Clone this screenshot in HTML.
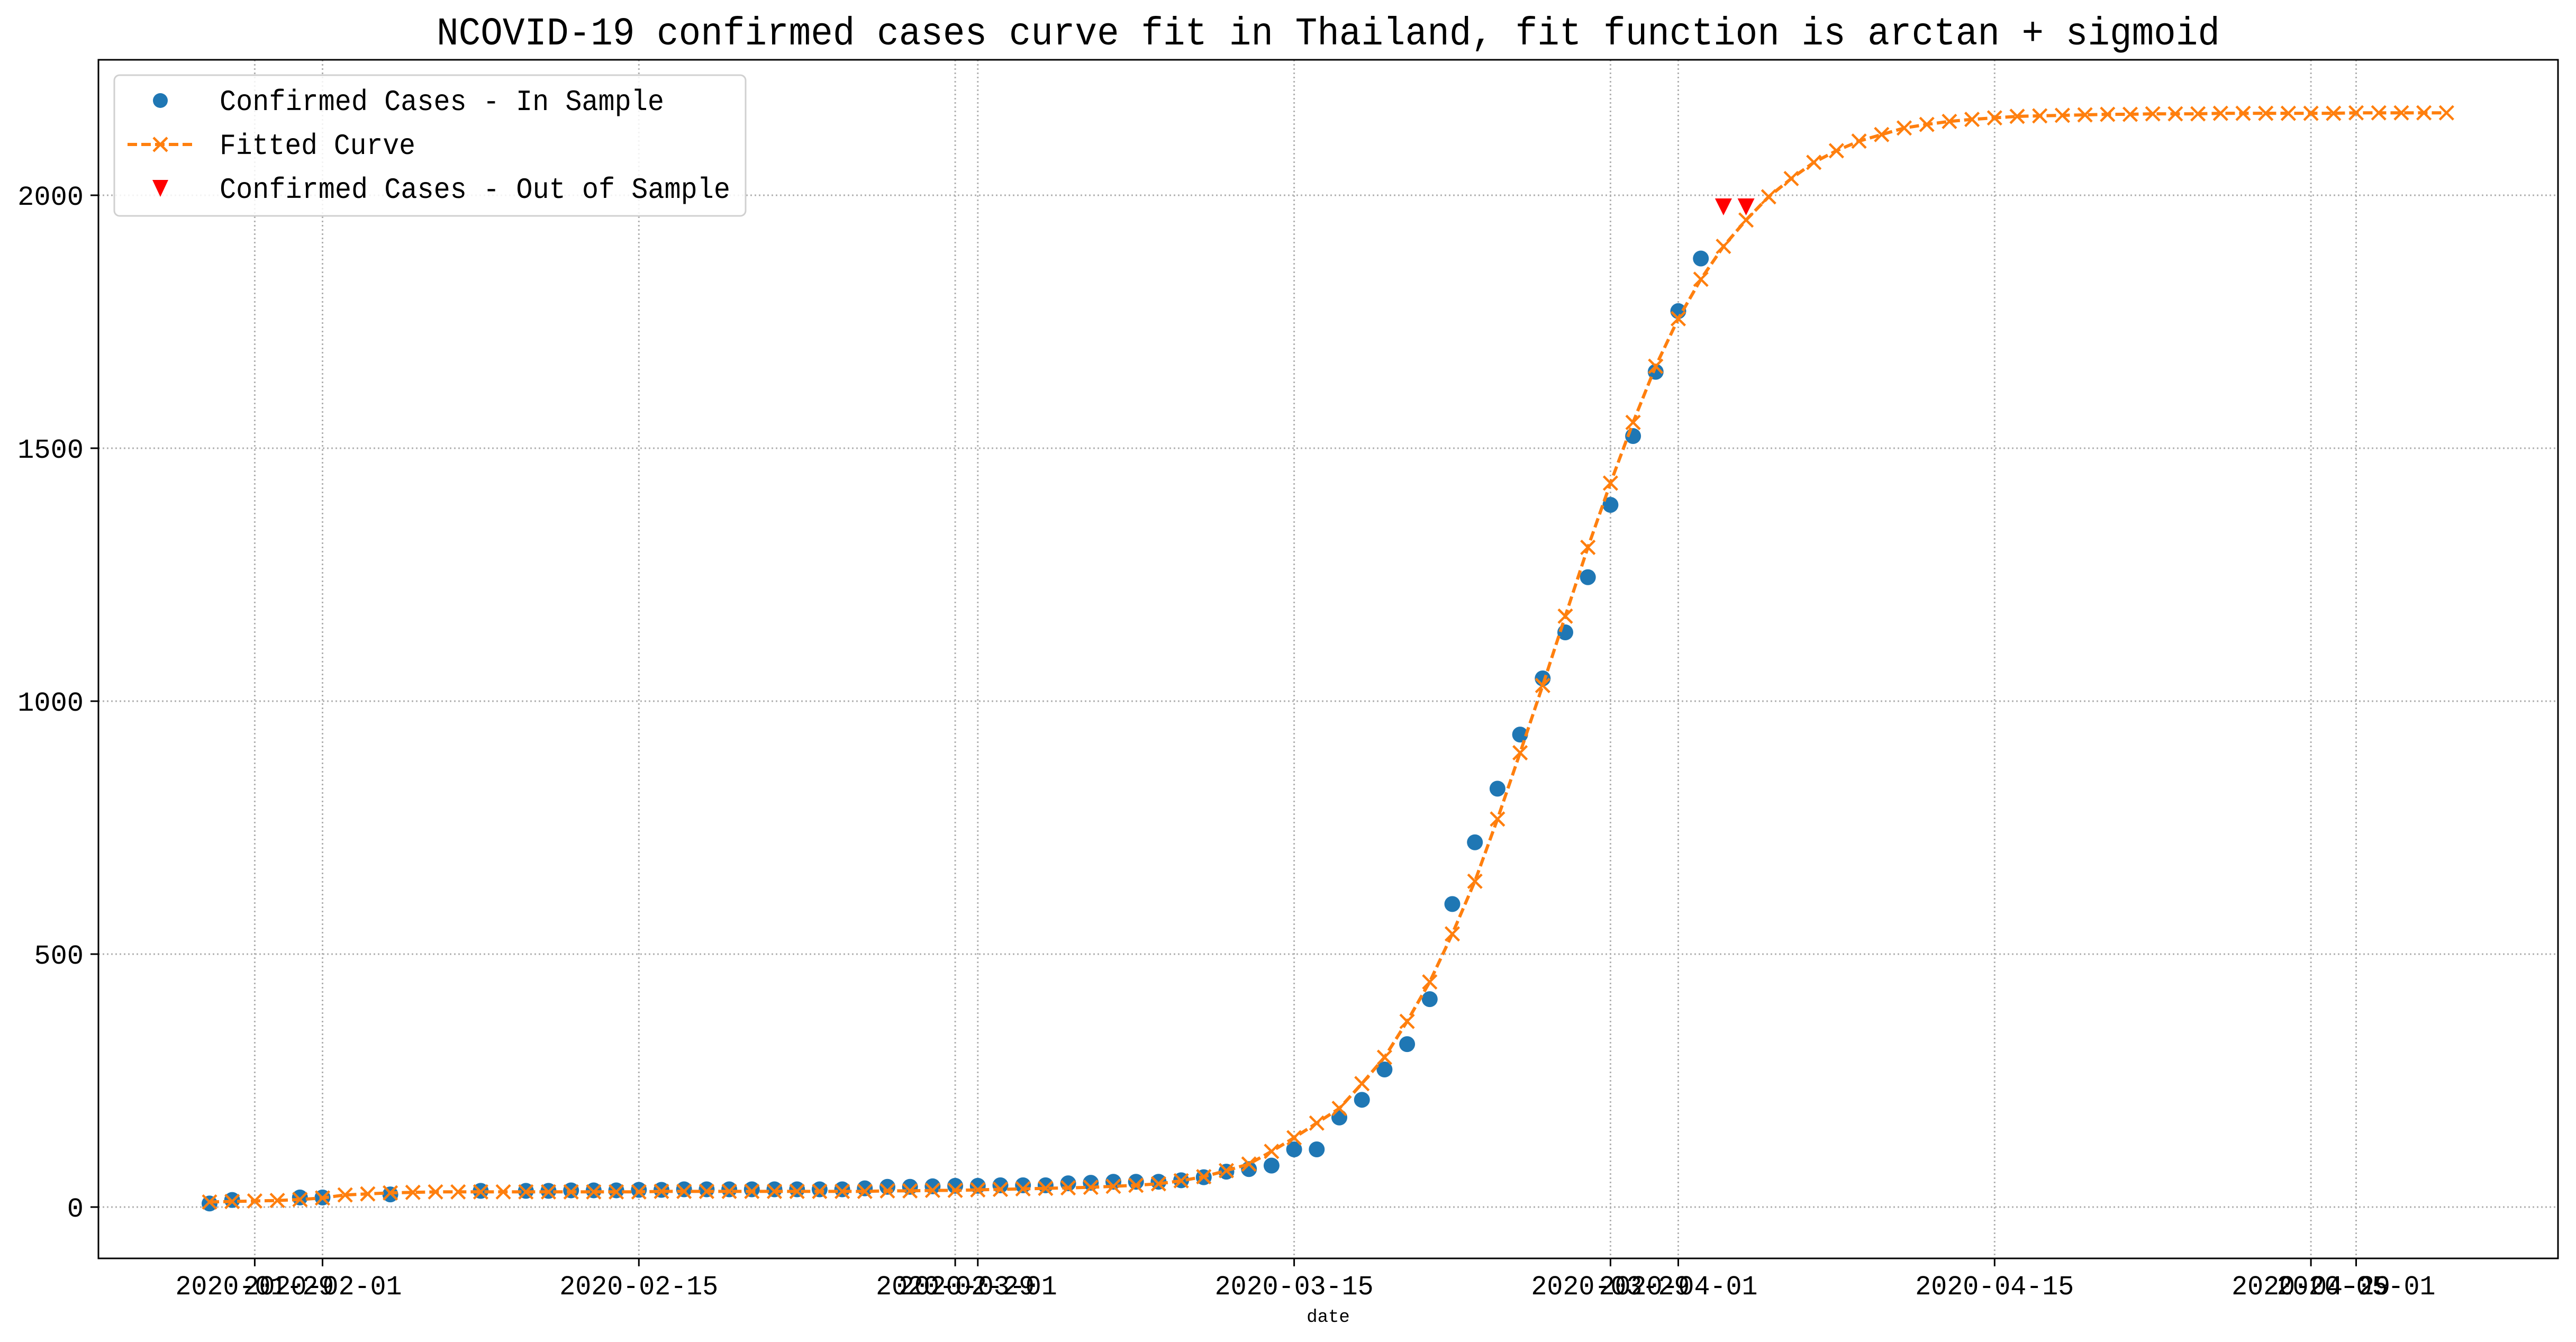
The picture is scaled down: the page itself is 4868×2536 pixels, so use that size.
<!DOCTYPE html>
<html><head><meta charset="utf-8"><style>
html,body{margin:0;padding:0;background:#fff;}
svg{display:block;font-family:"Liberation Mono","WenQuanYi Zen Hei",monospace;}
</style></head><body>
<svg id="chart" width="4868" height="2536" viewBox="0 0 4868 2536" xmlns="http://www.w3.org/2000/svg">
<rect width="4868" height="2536" fill="#fff"/>
<text x="2510" y="84" font-size="74" text-anchor="middle" textLength="3370" lengthAdjust="spacingAndGlyphs">NCOVID-19 confirmed cases curve fit in Thailand, fit function is arctan + sigmoid</text>
<g id="grid"></g>
<g id="series"></g>
<rect x="186" y="113" width="4648" height="2265" fill="none" stroke="#000" stroke-width="3"/>
<g id="axes"></g>
<text x="2510" y="2498" font-size="34" text-anchor="middle">date</text>
<g>
<rect x="216" y="142" width="1193" height="266" rx="10" fill="#fff" fill-opacity="0.85" stroke="#d0d0d0" stroke-width="3"/>
<g>
<circle cx="303" cy="190" r="14" fill="#1f77b4"/>
<text x="415" y="208" font-size="56" textLength="840" lengthAdjust="spacingAndGlyphs">Confirmed Cases - In Sample</text></g>
<g>
<line x1="241" y1="273" x2="364" y2="273" stroke="#ff7f0e" stroke-width="6" stroke-dasharray="18,8"/>
<path d="M290,260 L316,286 M290,286 L316,260" stroke="#ff7f0e" stroke-width="4.5"/>
<text x="415" y="291" font-size="56" textLength="370" lengthAdjust="spacingAndGlyphs">Fitted Curve</text></g>
<g>
<path d="M288,340 L318,340 L303,372 Z" fill="#ff0000"/>
<text x="415" y="374" font-size="56" textLength="965" lengthAdjust="spacingAndGlyphs">Confirmed Cases - Out of Sample</text></g>
</g>
</svg>
<script>
// Days offset from 2020-01-27
const inSampleDays = [0,1,4,5,8,12,14,15,16,17,18,19,20,21,22,23,24,25,26,27,28,29,30,31,32,33,34,35,36,37,38,39,40,41,42,43,44,45,46,47,48,49,50,51,52,53,54,55,56,57,58,59,60,61,62,63,64,65,66];
const inSampleValues = [7,14,19,19,25,32,32,32,33,33,33,34,34,35,35,35,35,35,35,35,35,37,40,40,41,42,42,43,43,43,47,48,50,50,50,53,59,70,75,82,114,114,177,212,272,322,411,599,721,827,934,1045,1136,1245,1388,1524,1651,1771,1875];
const outSampleDays = [67,68];
const outSampleValues = [1978,1978];
const fittedValues = [10,11,12,13,15,18,24,26,28,29,
30,30,30,30,30,30,30,30,30,30,31,31,31,31,31,31,31,31,31,31,
32,32,33,33,34,35,36,37,
38,39,41,43,46,52,60,72,85,110,137,
166,195,244,296,367,445,540,644,767,898,1031,1168,1304,1431,1551,1662,1756,1834,
1899,1951,1997,2033,2065,2088,2107,2120,2133,2140,2146,2150,2153,2156,2157,2158,2159,2160,2160,2161,2161,2161,2162,2162,2162,2162,2162,2162,2163,2163,2163,2163,2163];
const xTickDays = [2,5,19,33,34,48,62,65,79,93,95];
const xTickLabels = ["2020-01-29","2020-02-01","2020-02-15","2020-02-29","2020-03-01","2020-03-15","2020-03-29","2020-04-01","2020-04-15","2020-04-29","2020-05-01"];
const yTicks = [0,500,1000,1500,2000];

const NS = "http://www.w3.org/2000/svg";
const X0 = 396, DX = 42.7, Y0 = 2281, DY = 0.956;
function xs(d){ return X0 + d*DX; }
function ys(v){ return Y0 - v*DY; }
function mk(tag, attrs, parent){ const e=document.createElementNS(NS,tag); for(const k in attrs) e.setAttribute(k,attrs[k]); parent.appendChild(e); return e; }

const grid=document.getElementById('grid'), axes=document.getElementById('axes'), series=document.getElementById('series');
xTickDays.forEach((d,i)=>{
  const x=xs(d);
  const g=mk('line',{x1:x,y1:113,x2:x,y2:2378,stroke:'#b0b0b0','stroke-width':3,'stroke-dasharray':'3,5'},grid);
  
  
  const t=mk('line',{x1:x,y1:2378,x2:x,y2:2393,stroke:'#000','stroke-width':3},axes);
  
  
  const l=mk('text',{x:x,y:2446,'font-size':52,'text-anchor':'middle',textLength:300,lengthAdjust:'spacingAndGlyphs'},axes);
  l.textContent=xTickLabels[i];
  
  
});
yTicks.forEach(v=>{
  const y=ys(v);
  const g=mk('line',{x1:186,y1:y,x2:4834,y2:y,stroke:'#b0b0b0','stroke-width':3,'stroke-dasharray':'3,5'},grid);
  
  
  const t=mk('line',{x1:171,y1:y,x2:186,y2:y,stroke:'#000','stroke-width':3},axes);
  
  
  const l=mk('text',{x:158,y:y+18,'font-size':52,'text-anchor':'end'},axes);
  l.textContent=String(v);
  
  
});
inSampleDays.forEach((d,i)=>{
  const c=mk('circle',{cx:xs(d),cy:ys(inSampleValues[i]),r:15,fill:'#1f77b4'},series);
  
  
});
let pts=fittedValues.map((v,i)=>xs(i).toFixed(1)+','+ys(v).toFixed(1)).join(' ');
const pl=mk('polyline',{points:pts,fill:'none',stroke:'#ff7f0e','stroke-width':6,'stroke-dasharray':'18,8'},series);


fittedValues.forEach((v,i)=>{
  const x=xs(i), y=ys(v), s=13;
  const p=mk('path',{d:`M${x-s},${y-s} L${x+s},${y+s} M${x-s},${y+s} L${x+s},${y-s}`,stroke:'#ff7f0e','stroke-width':4.5},series);
  
  
});
outSampleDays.forEach((d,i)=>{
  const x=xs(d), y=ys(outSampleValues[i]);
  const p=mk('path',{d:`M${x-16},${y-15} L${x+16},${y-15} L${x},${y+17} Z`,fill:'#ff0000'},series);
  
  
});
</script>
</body></html>
